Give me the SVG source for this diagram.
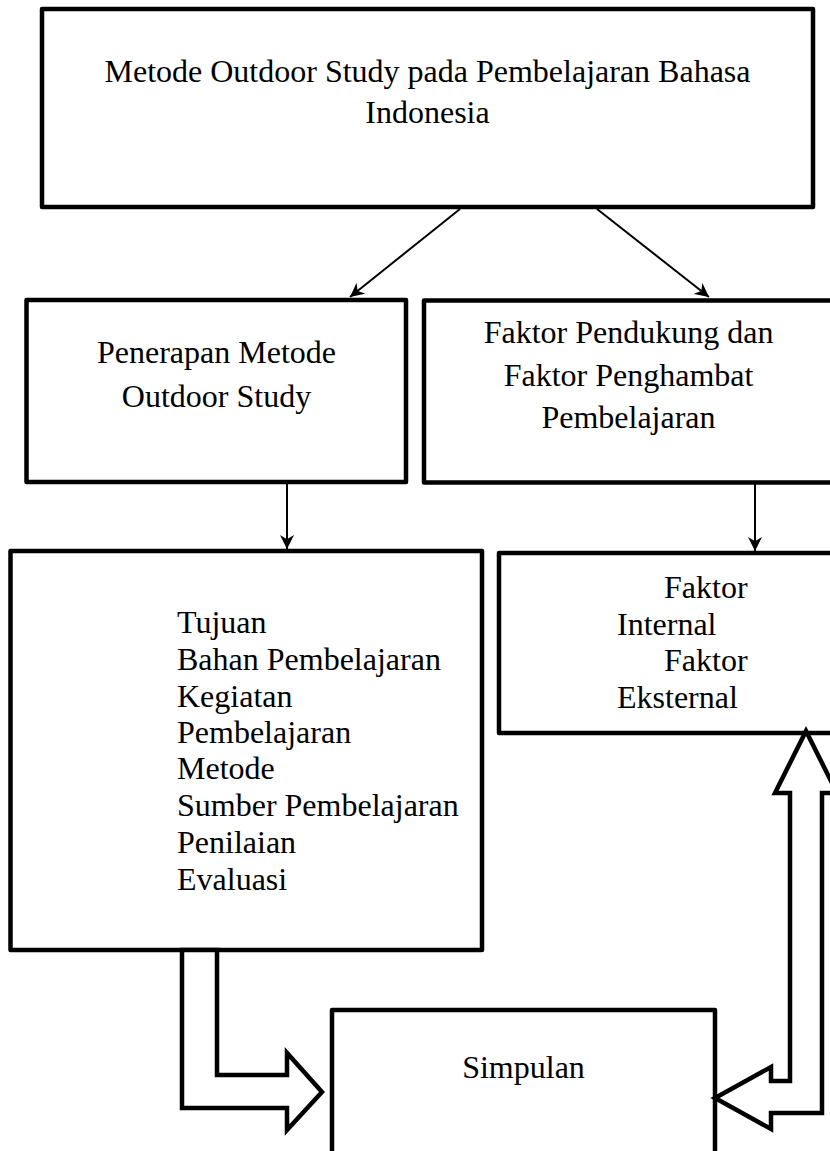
<svg xmlns="http://www.w3.org/2000/svg" width="830" height="1151" viewBox="0 0 830 1151">
<style>
.box{fill:#fff;stroke:#000;stroke-width:4.5;stroke-linejoin:round}
.blk{fill:#fff;stroke:#000;stroke-width:4.5;stroke-linejoin:miter}
.ln{fill:none;stroke:#000;stroke-width:2}
text{font-family:"Liberation Serif","Times New Roman",serif;font-size:32px;fill:#000}
.c{text-anchor:middle}
</style>
<defs>
<marker id="ah" viewBox="0 0 10 10" refX="10" refY="5" markerWidth="7" markerHeight="7" markerUnits="strokeWidth" orient="auto">
<path d="M0,0 L10,5 L0,10 L3,5 z" fill="#000"/>
</marker>
</defs>
<rect width="830" height="1151" fill="#fff"/>
<g id="top">
<rect class="box" x="42" y="9" width="771" height="198"/>
<text class="c" x="427.5" y="82">Metode Outdoor Study pada Pembelajaran Bahasa</text>
<text class="c" x="427.5" y="123">Indonesia</text>
</g>
<g id="penerapan">
<rect class="box" x="26.5" y="300" width="379.5" height="182"/>
<text class="c" x="216.5" y="363">Penerapan Metode</text>
<text class="c" x="216.5" y="407">Outdoor Study</text>
</g>
<g id="faktor">
<rect class="box" x="424" y="300.5" width="420" height="182"/>
<text class="c" x="628.5" y="343">Faktor Pendukung dan</text>
<text class="c" x="628.5" y="386">Faktor Penghambat</text>
<text class="c" x="628.5" y="428">Pembelajaran</text>
</g>
<g id="komponen">
<rect class="box" x="10.5" y="551" width="471.5" height="399"/>
<text x="177" y="633">Tujuan</text>
<text x="177" y="670">Bahan Pembelajaran</text>
<text x="177" y="707">Kegiatan</text>
<text x="177" y="743">Pembelajaran</text>
<text x="177" y="779">Metode</text>
<text x="177" y="816">Sumber Pembelajaran</text>
<text x="177" y="853">Penilaian</text>
<text x="177" y="890">Evaluasi</text>
</g>
<g id="faktor-ie">
<rect class="box" x="499" y="553" width="345" height="180"/>
<text x="664" y="598">Faktor</text>
<text x="617" y="635">Internal</text>
<text x="664" y="671">Faktor</text>
<text x="617" y="708">Eksternal</text>
</g>
<g id="simpulan">
<rect class="box" x="332" y="1010" width="383" height="160"/>
<text class="c" x="523.5" y="1078">Simpulan</text>
</g>
<g id="connectors">
<line class="ln" x1="460" y1="209" x2="350" y2="297" marker-end="url(#ah)"/>
<line class="ln" x1="597" y1="209" x2="709" y2="297" marker-end="url(#ah)"/>
<line class="ln" x1="287" y1="484" x2="287" y2="549" marker-end="url(#ah)"/>
<line class="ln" x1="755" y1="484" x2="755" y2="551" marker-end="url(#ah)"/>
<polygon class="blk" points="182,950 217,950 217,1075 287,1075 287,1053 322,1092 287,1130 287,1108 182,1108"/>
<polygon class="blk" points="806,731 837,793 822,793 822,1113 771,1113 771,1129 715,1098 771,1067 771,1081 790,1081 790,793 775,793"/>
</g>
</svg>
